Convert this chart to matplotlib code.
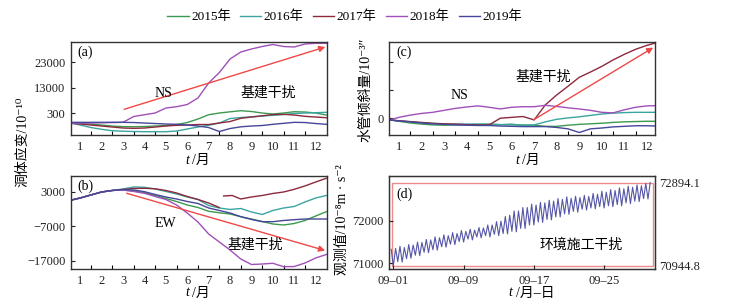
import numpy as np
import matplotlib
matplotlib.use('Agg')
import matplotlib.pyplot as plt
import matplotlib.transforms as mtransforms
from matplotlib.patches import Rectangle

plt.rcParams['font.family'] = ['Liberation Serif', 'DejaVu Serif', 'Noto Sans CJK SC']

years = ['2015年', '2016年', '2017年', '2018年', '2019年']
colors = ['#3c9a50', '#3aa5a0', '#8c2a3c', '#a050b8', '#46469a']

months = [0.6, 1.0, 1.5, 2.0, 2.5, 3.0, 3.5, 4.0, 4.5, 5.0, 5.5, 6.0, 6.5,
          7.0, 7.5, 8.0, 8.5, 9.0, 9.5, 10.0, 10.5, 11.0, 11.5, 12.0, 12.5]
month_labels = [1, 2, 3, 4, 5, 6, 7, 8, 9, 10, 11, 12]

# (a) NS strain
ns_2015 = [-690, -880, -1270, -1590, -1980, -2210, -2250, -2170, -1980, -1780, -1390, -610, 770,
           2450, 3120, 3590, 4020, 3710, 3120, 2730, 3120, 3630, 3510, 3120, 2330]
ns_2016 = [-920, -1590, -2570, -3270, -3820, -4020, -4130, -4210, -4210, -4210, -3940, -3150, -2370,
           -1700, -800, 960, 1350, 1630, 1940, 2220, 2530, 2920, 3120, 3240, 3390]
ns_2017 = [-920, -1190, -1590, -1980, -2370, -2760, -2880, -2760, -2370, -1980, -1700, -1590, -1390,
           -1390, -800, -210, 1040, 1550, 2020, 2530, 2610, 2330, 1820, 1550, 1270]
ns_2018 = [-920, -800, -800, -720, -610, -530, 1750, 2450, 3120, 5080, 5590, 6450, 9000,
           14880, 18990, 24290, 27030, 28210, 29190, 29970, 29190, 28990, 30170, 30440, 30440]
ns_2019 = [-530, -530, -530, -530, -530, -530, -610, -800, -1000, -1190, -1310, -1590, -1980,
           -2570, -4130, -2960, -2290, -1980, -1780, -1310, -920, -530, -610, -1000, -1310]

# (b) EW strain
ew_2015 = [605, 1180, 2050, 2910, 3350, 3490, 3200, 2710, 1900, 1040, 170, -840, -1560,
           -2660, -3090, -3440, -4220, -4880, -5600, -6320, -6610, -6180, -5310, -4020, -2770]
ew_2016 = [605, 1180, 2050, 2910, 3350, 3780, 4360, 4270, 3780, 3060, 2340, 1470, 750,
           -980, -1710, -2140, -1850, -2860, -3580, -2430, -1710, -1270, 30, 1180, 1900]
ew_2017a = [605, 1180, 2050, 2910, 3350, 3630, 3920, 3980, 3840, 3350, 2630, 1620, 750, -260, -1560]
ew_2017b_months = [7.7, 8.1, 8.5, 9.0, 9.5, 10.0, 10.5, 11.0, 11.5, 12.0, 12.5]
ew_2017b = [1760, 1900, 890, 1470, 1900, 2480, 2910, 3690, 4650, 5800, 6870]
ew_2018 = [605, 1180, 2050, 2910, 3350, 3490, 3060, 2540, 1620, 750, -840, -3150, -5750,
           -9210, -11520, -13830, -16420, -18010, -17870, -17660, -18650, -18590, -17580, -16130, -15120]
ew_2019 = [605, 1180, 2050, 2910, 3350, 3630, 3490, 3000, 2190, 1470, 890, 170, -410,
           -1710, -2430, -3150, -4220, -5020, -5660, -5660, -5310, -5080, -4880, -4880, -4880]

# (c) water tube tilt
tilt_2015 = [-0.06, -0.11, -0.17, -0.21, -0.24, -0.25, -0.24, -0.23, -0.22, -0.21, -0.23, -0.24, -0.24,
             -0.25, -0.29, -0.29, -0.25, -0.22, -0.20, -0.18, -0.15, -0.13, -0.12, -0.11, -0.11]
tilt_2016 = [-0.06, -0.10, -0.13, -0.17, -0.19, -0.21, -0.21, -0.21, -0.21, -0.22, -0.23, -0.21, -0.26,
             -0.24, -0.13, -0.04, 0.01, 0.05, 0.10, 0.15, 0.18, 0.20, 0.21, 0.21, 0.21]
tilt_2017 = [-0.06, -0.09, -0.12, -0.15, -0.18, -0.20, -0.21, -0.23, -0.24, -0.24, 0.00, 0.03, 0.06,
             -0.06, 0.48, 0.83, 1.14, 1.46, 1.65, 1.85, 2.08, 2.28, 2.46, 2.60, 2.71]
tilt_2018 = [-0.06, 0.03, 0.11, 0.17, 0.21, 0.28, 0.35, 0.40, 0.44, 0.39, 0.33, 0.39, 0.41,
             0.41, 0.46, 0.42, 0.37, 0.33, 0.28, 0.21, 0.19, 0.30, 0.39, 0.44, 0.45]
tilt_2019 = [-0.06, -0.10, -0.13, -0.17, -0.20, -0.22, -0.24, -0.25, -0.26, -0.26, -0.28, -0.29, -0.30,
             -0.30, -0.30, -0.33, -0.38, -0.51, -0.38, -0.35, -0.31, -0.29, -0.27, -0.27, -0.28]

# (d) gravity, 6-hourly samples from 08-31 18:00
gravity = [71330, 70945, 71350, 71040, 71400, 71030, 71370, 71110, 71440, 71120,
           71430, 71190, 71500, 71180, 71490, 71260, 71560, 71250, 71550, 71320,
           71620, 71310, 71600, 71390, 71670, 71380, 71650, 71450, 71720, 71440,
           71700, 71510, 71770, 71500, 71750, 71570, 71800, 71550, 71780, 71620,
           71840, 71600, 71830, 71650, 71900, 71620, 71900, 71680, 71980, 71650,
           71990, 71700, 72100, 71690, 72130, 71750, 72230, 71740, 72230, 71820,
           72310, 71820, 72310, 71900, 72390, 71900, 72370, 71970, 72430, 71960,
           72420, 72030, 72480, 72020, 72460, 72090, 72520, 72090, 72500, 72160,
           72560, 72150, 72525, 72220, 72575, 72200, 72545, 72270, 72595, 72250,
           72570, 72300, 72640, 72280, 72620, 72330, 72690, 72300, 72670, 72350,
           72730, 72330, 72710, 72380, 72770, 72350, 72750, 72420, 72810, 72400,
           72785, 72460, 72840, 72450, 72820, 72520, 72875, 72510, 72894.1]
days = -0.25 + 0.25 * np.arange(len(gravity))
day_ticks = [0, 8, 16, 24]
day_labels = ['09\u201301', '09\u201309', '09\u201317', '09\u201325']

arrow_red = '#f04848'
frame = '#333333'

fig = plt.figure(figsize=(7.29, 3.06), dpi=100)
ax_a = fig.add_axes([0.0974, 0.5588, 0.3512, 0.3039])
ax_b = fig.add_axes([0.0974, 0.1199, 0.3512, 0.3050])
ax_c = fig.add_axes([0.5336, 0.5588, 0.3649, 0.3039])
ax_d = fig.add_axes([0.5336, 0.1199, 0.3649, 0.3050])


def style(ax):
    for s in ax.spines.values():
        s.set_color(frame)
        s.set_linewidth(1.0)
    ax.tick_params(direction='in', length=3, width=0.8, labelsize=9, pad=4, colors='#222222')


def month_axis(ax, lo, hi):
    ax.set_xlim(lo, hi)
    ax.set_xticks(month_labels)
    ax.set_xticks([m + 0.5 for m in month_labels[:-1]], minor=True)
    ax.tick_params(axis='x', which='major', length=0, pad=4)
    ax.tick_params(axis='x', which='minor', direction='in', length=3, width=0.8)


def t_label(xpx, ypx, rest):
    # italic t followed by the upright unit
    fig.text((xpx - 1.5) / 729, 1 - (ypx + 3) / 306, 't', style='italic', ha='right', va='center', fontsize=10)
    fig.text((xpx + 1.5) / 729, 1 - (ypx + 3) / 306, rest, ha='left', va='center', fontsize=10)


lines = []
for ax, series in [(ax_a, [ns_2015, ns_2016, ns_2017, ns_2018, ns_2019]),
                   (ax_c, [tilt_2015, tilt_2016, tilt_2017, tilt_2018, tilt_2019])]:
    for vals, c, lab in zip(series, colors, years):
        ln, = ax.plot(months, vals, color=c, lw=1.0, label=lab)
        if ax is ax_a:
            lines.append(ln)

ax_b.plot(months, ew_2015, color=colors[0], lw=1.0)
ax_b.plot(months, ew_2016, color=colors[1], lw=1.0)
ax_b.plot(months[:len(ew_2017a)], ew_2017a, color=colors[2], lw=1.0)
ax_b.plot(ew_2017b_months, ew_2017b, color=colors[2], lw=1.0)
ax_b.plot(months, ew_2018, color=colors[3], lw=1.0)
ax_b.plot(months, ew_2019, color=colors[4], lw=1.0)

arrow_kw = dict(arrowstyle='-|>', color=arrow_red, lw=1.0, mutation_scale=9, shrinkA=0, shrinkB=0)

# (a)
style(ax_a)
month_axis(ax_a, 0.57, 12.53)
ax_a.set_ylim(-5500, 30950)
ax_a.set_yticks([3000, 13000, 23000])
ax_a.set_yticklabels(['300', '13000', '23000'])
ax_a.annotate('', xy=(12.45, 29000), xytext=(3.05, 4570), arrowprops=arrow_kw)
ax_a.text(4.87, 10960, 'NS', fontsize=10, ha='center', va='center')
ax_a.text(9.77, 10960, '基建干扰', fontsize=10, ha='center', va='center')
ax_a.text(0.025, 0.885, '(a)', transform=ax_a.transAxes, fontsize=10, va='center')

# (b)
style(ax_b)
month_axis(ax_b, 0.57, 12.53)
ax_b.set_ylim(-19400, 7530)
ax_b.set_yticks([-17000, -7000, 3000])
ax_b.annotate('', xy=(12.44, -13970), xytext=(3.17, 2540), arrowprops=arrow_kw)
ax_b.text(4.96, -6120, 'EW', fontsize=10, ha='center', va='center')
ax_b.text(9.17, -12380, '基建干扰', fontsize=10, ha='center', va='center')
ax_b.text(0.025, 0.885, '(b)', transform=ax_b.transAxes, fontsize=10, va='center')

# (c)
style(ax_c)
month_axis(ax_c, 0.56, 12.36)
ax_c.set_ylim(-0.6, 2.72)
ax_c.set_yticks([0, 1, 2])
ax_c.set_yticklabels(['0', '', ''])
ax_c.annotate('', xy=(12.28, 2.52), xytext=(6.97, -0.06), arrowprops=arrow_kw)
ax_c.text(3.69, 0.8, 'NS', fontsize=10, ha='center', va='center')
ax_c.text(7.42, 1.49, '基建干扰', fontsize=10, ha='center', va='center')
ax_c.text(0.026, 0.885, '(c)', transform=ax_c.transAxes, fontsize=10, va='center')

# (d)
style(ax_d)
ax_d.plot(days, gravity, color='#5656a8', lw=0.8)
ax_d.set_xlim(-0.5, 29.8)
ax_d.set_ylim(70860, 73050)
ax_d.set_xticks(day_ticks)
ax_d.set_xticklabels(day_labels)
ax_d.set_yticks([71000, 72000])
trans = mtransforms.blended_transform_factory(ax_d.transAxes, ax_d.transData)
ax_d.add_patch(Rectangle((0.012, 70944.8), 0.979, 72894.1 - 70944.8, transform=trans,
                         fill=False, ec='#f08a8a', lw=1.0))
ax_d.text(21.4, 71430, '环境施工干扰', fontsize=10, ha='center', va='center')
ax_d.text(0.026, 0.804, '(d)', transform=ax_d.transAxes, fontsize=10, va='center')
ax_d2 = ax_d.twinx()
ax_d2.set_ylim(ax_d.get_ylim())
ax_d2.set_yticks([70944.8, 72894.1])
ax_d2.set_yticklabels(['70944.8', '72894.1'])
ax_d2.tick_params(direction='in', length=0, labelsize=9, pad=3, colors='#222222')
for s in ax_d2.spines.values():
    s.set_color(frame)

# axis titles
fig.text(23 / 729, 1 - 142 / 306, '洞体应变/10⁻¹⁰', rotation=90, ha='center', va='center', fontsize=10)
fig.text(366 / 729, 1 - 90 / 306, '水管倾斜量/10⁻³″', rotation=90, ha='center', va='center', fontsize=10)
fig.text(342 / 729, 1 - 220 / 306, '观测值/10⁻⁸m · s⁻²', rotation=90, ha='center', va='center', fontsize=10)
t_label(191, 157, '/月')
t_label(191, 290, '/月')
t_label(521, 157, '/月')
t_label(514, 290, '/月\u2013日')

fig.legend(handles=lines, loc='center', bbox_to_anchor=(0.473, 1 - 17 / 306), ncol=5,
           frameon=False, fontsize=9.5, handlelength=1.6, handletextpad=0.2, columnspacing=0.7)

fig.savefig('out.png', dpi=100)
